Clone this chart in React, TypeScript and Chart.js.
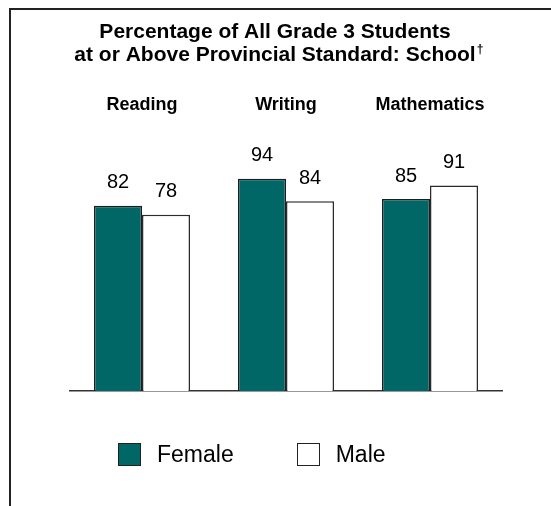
import React, { useEffect, useRef } from "react";
import { Chart, registerables } from "chart.js";

Chart.register(...registerables);

const categories = ["Reading", "Writing", "Mathematics"];
const seriesNames = ["Female", "Male"];
const femaleValues = [82, 94, 85];
const maleValues = [78, 84, 91];
const seriesColors = ["#006666", "#ffffff"];
const titleLines = [
  "Percentage of All Grade 3 Students",
  "at or Above Provincial Standard: School",
];
const titleMark = "\u2020";

const FONT = '"Liberation Sans", Arial, Helvetica, sans-serif';
const TITLE_SIZE = 21;
const TITLE_LH = 1.1;
const TITLE_PAD_TOP = 10.5;

const valueLabels = {
  id: "valueLabels",
  afterDatasetsDraw(chart: any) {
    const ctx = chart.ctx;
    ctx.save();
    ctx.font = `20px ${FONT}`;
    ctx.fillStyle = "#000";
    ctx.textAlign = "center";
    ctx.textBaseline = "alphabetic";
    chart.data.datasets.forEach((ds: any, i: number) => {
      const meta = chart.getDatasetMeta(i);
      meta.data.forEach((el: any, j: number) => {
        ctx.fillText(String(ds.data[j]), el.x, el.y - 17.5);
      });
    });
    ctx.restore();
  },
};

const titleSuperscript = {
  id: "titleSuperscript",
  afterDraw(chart: any) {
    const tb = chart.titleBlock;
    if (!tb) return;
    const ctx = chart.ctx;
    ctx.save();
    ctx.font = `bold ${TITLE_SIZE}px ${FONT}`;
    const w = ctx.measureText(titleLines[1]).width;
    const cx = (tb.left + tb.right) / 2;
    const lh = TITLE_SIZE * TITLE_LH;
    const y = tb.top + TITLE_PAD_TOP + 1.5 * lh;
    ctx.font = `bold 12px ${FONT}`;
    ctx.fillStyle = "#000";
    ctx.textAlign = "left";
    ctx.textBaseline = "middle";
    ctx.fillText(titleMark, cx + w / 2 + 1, y - 5);
    ctx.restore();
  },
};

export default function App() {
  const canvasRef = useRef<HTMLCanvasElement | null>(null);

  useEffect(() => {
    if (!canvasRef.current) return;
    const chart = new Chart(canvasRef.current, {
      type: "bar",
      data: {
        labels: categories,
        datasets: [
          {
            label: seriesNames[0],
            data: femaleValues,
            backgroundColor: seriesColors[0],
            borderColor: "#1e1e1e",
            borderWidth: 1.5,
            categoryPercentage: 2 / 3,
            barPercentage: 1,
          },
          {
            label: seriesNames[1],
            data: maleValues,
            backgroundColor: seriesColors[1],
            borderColor: "#2a2a2a",
            borderWidth: 1.5,
            categoryPercentage: 2 / 3,
            barPercentage: 1,
          },
        ],
      },
      options: {
        responsive: false,
        animation: false,
        events: [],
        layout: { padding: { left: 48, right: 49, top: 10, bottom: 115 } },
        scales: {
          x: {
            position: "bottom",
            ticks: { display: false },
            grid: { display: false, drawTicks: false },
            border: { display: true, color: "#333", width: 1.5 },
          },
          x2: {
            type: "category",
            position: "top",
            offset: true,
            labels: categories,
            ticks: {
              padding: 4,
              color: "#000",
              font: { family: FONT, size: 18, weight: "bold" },
            },
            grid: { display: false, drawTicks: false },
            border: { display: false },
          },
          y: {
            min: 0,
            max: 120,
            ticks: { display: false },
            grid: { display: false, drawTicks: false },
            border: { display: false },
            afterFit: (s: any) => {
              s.width = 22;
            },
          },
        },
        plugins: {
          legend: { display: false },
          tooltip: { enabled: false },
          title: {
            display: true,
            text: titleLines,
            color: "#000",
            font: { family: FONT, size: TITLE_SIZE, weight: "bold", lineHeight: TITLE_LH },
            padding: { top: TITLE_PAD_TOP, bottom: 23.7 },
          },
        },
      } as any,
      plugins: [valueLabels, titleSuperscript],
    });
    return () => chart.destroy();
  }, []);

  return (
    <div
      style={{
        position: "fixed",
        left: 0,
        top: 0,
        width: 551,
        height: 506,
        overflow: "hidden",
        background: "#fff",
        fontFamily: FONT,
      }}
    >
      <div
        style={{
          position: "absolute",
          left: 9,
          top: 8,
          width: 551,
          height: 506,
          borderTop: "2px solid #222",
          borderLeft: "2px solid #222",
          boxSizing: "border-box",
        }}
      />
      <canvas
        ref={canvasRef}
        width={551}
        height={506}
        style={{ position: "absolute", left: 0, top: 0, width: 551, height: 506 }}
      />
      <div
        style={{
          position: "absolute",
          left: 118,
          top: 443,
          display: "flex",
          alignItems: "center",
          height: 23,
        }}
      >
        {seriesNames.map((name, i) => (
          <div
            key={name}
            style={{ display: "flex", alignItems: "center", marginRight: 63 }}
          >
            <div
              style={{
                width: 23,
                height: 23,
                boxSizing: "border-box",
                background: seriesColors[i],
                border: "1.5px solid #222",
                marginRight: 16,
              }}
            />
            <span style={{ fontSize: 23, lineHeight: "23px", color: "#000" }}>
              {name}
            </span>
          </div>
        ))}
      </div>
    </div>
  );
}
